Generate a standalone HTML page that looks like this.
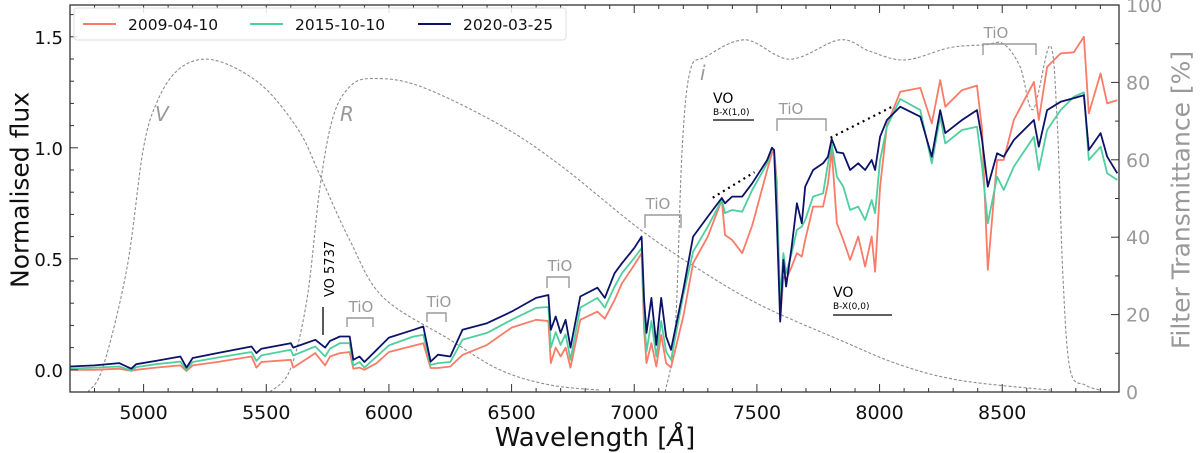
<!DOCTYPE html>
<html><head><meta charset="utf-8"><style>
html,body{margin:0;padding:0;background:#fff;}
svg{display:block;font-family:"DejaVu Sans","Liberation Sans",sans-serif;}
</style></head><body>
<svg id="chart" width="1200" height="453" viewBox="0 0 1200 453">
<g id="filters"></g>
<g id="series"></g>
<g id="axes"></g>
<g id="annot"></g>
</svg>
<script>
const wavelengths = [
4700,4800,4900,4950,4970,5050,5150,5175,5200,5300,
5440,5460,5480,5600,5610,5700,5740,5760,5800,5840,
5855,5880,5900,5950,6000,6100,6140,6170,6200,6250,
6300,6400,6500,6600,6650,6660,6680,6700,6720,6740,
6780,6850,6880,6920,6950,7000,7030,7040,7050,7070,
7090,7110,7130,7150,7200,7240,7300,7357,7370,7399,
7440,7481,7542,7561,7570,7581,7595,7608,7619,7642,
7663,7683,7697,7729,7770,7790,7805,7826,7852,7880,
7913,7941,7968,7982,8002,8030,8084,8166,8213,8247,
8268,8336,8397,8418,8441,8479,8506,8547,8629,8649,
8683,8738,8792,8833,8853,8901,8928,8969];
const flux2020 = [
.015,.02,.03,.005,.025,.04,.06,.01,.053,.075,
.105,.075,.095,.12,.1,.135,.1,.13,.15,.15,
.045,.06,.035,.09,.145,.18,.195,.037,.068,.06,
.18,.21,.262,.324,.337,.18,.24,.166,.225,.1,
.33,.37,.324,.435,.48,.548,.60,.315,.166,.324,
.112,.324,.15,.09,.36,.60,.69,.774,.75,.78,
.78,.84,.945,1.0,.99,.675,.217,.495,.375,.555,
.75,.66,.825,.9,.93,.96,1.04,.98,.975,.9,
.93,.9,.945,.9,1.05,1.125,1.185,1.14,.96,1.17,
1.066,1.125,1.17,1.035,.825,.975,.96,1.035,1.125,1.005,
1.17,1.207,1.224,1.237,.99,1.066,.96,.885];
const flux2015 = [
.005,.01,.015,-.003,.012,.025,.037,0,.035,.055,
.08,.04,.065,.09,.065,.105,.06,.095,.12,.12,
.02,.035,.01,.06,.11,.15,.157,.022,.03,.035,
.135,.166,.225,.279,.283,.1,.17,.112,.16,.045,
.28,.324,.28,.375,.435,.503,.548,.24,.082,.22,
.06,.22,.082,.045,.337,.532,.645,.765,.706,.72,
.712,.81,.93,1.0,.98,.8,.315,.525,.435,.525,
.63,.645,.675,.78,.795,.93,1.02,.87,.825,.72,
.735,.675,.765,.706,.945,1.095,1.22,1.17,.93,1.14,
1.02,1.08,1.095,.915,.66,.87,.81,.915,1.05,.9,
1.08,1.17,1.23,1.25,.945,1.005,.885,.855];
const flux2009 = [
0,0,.005,-.005,0,.01,.02,-.005,.02,.035,
.06,.01,.035,.045,.01,.075,.02,.06,.075,.08,
.005,.01,0,.03,.08,.108,.12,.008,.008,.015,
.067,.112,.19,.225,.22,.03,.1,.06,.1,.01,
.225,.262,.23,.315,.39,.472,.525,.18,.03,.12,
.015,.157,.03,.01,.24,.48,.60,.765,.607,.585,
.525,.65,.9,.975,.99,.85,.225,.42,.405,.465,
.525,.51,.585,.735,.735,.84,.99,.66,.585,.495,
.60,.465,.6,.442,.825,1.1,1.252,1.27,1.11,1.305,
1.185,1.26,1.28,1.08,.45,.945,.945,1.125,1.297,1.125,
1.364,1.425,1.43,1.50,1.155,1.335,1.2,1.215];
const seriesNames = ["2009-04-10","2015-10-10","2020-03-25"];
const filterVwl = [4773,4835,4932,4998,5055,5136,5242,5365,5503,5638,5719,5842,5976,6249,6453,6657,6861];
const filterVt  = [0,6.5,32,62.5,75,83,86,84,78,67,56,39,24.5,13.5,5.7,1.8,0.5];
const filterRwl = [5515,5597,5666,5719,5772,5842,5935,6127,6453,6698,7024,7269,7513,7839,8084,8329,8695];
const filterRt  = [0,5.7,24,53,71,79,81,79,69,58.6,42,31.5,22.5,13.4,7,3,0.5];
const filterIwl = [7126,7167,7195,7228,7289,7452,7635,7839,7962,8104,8288,8430,8504,8573,8626,8695,8724,8748,8777,8838,8899];
const filterIt  = [0,16,62.5,83,86.5,91,86,91,88,85.8,89,89.7,90,84,73,89.5,70,29,5.7,1.8,0.5];
const xTicks = [5000,5500,6000,6500,7000,7500,8000,8500];
const yTicks = [0.0,0.5,1.0,1.5];
const yTickLabels = ["0.0","0.5","1.0","1.5"];
const rTicks = [0,20,40,60,80,100];

const L=70,R=1119,T=5,B=392;
const X0=4700,X1=8976,Y0=-0.1,Y1=1.6432;
const xs=v=>L+(v-X0)/(X1-X0)*(R-L);
const ys=v=>B-(v-Y0)/(Y1-Y0)*(B-T);
const rs=v=>B-v/100*(B-T);
const NS="http://www.w3.org/2000/svg";
function mk(tag,attrs,parent){const e=document.createElementNS(NS,tag);for(const k in attrs)e.setAttribute(k,attrs[k]);parent.appendChild(e);return e;}
const gF=document.getElementById('filters'),gS=document.getElementById('series'),gA=document.getElementById('axes');

function smoothPath(px){
  let d='M'+px[0][0].toFixed(1)+','+px[0][1].toFixed(1);
  for(let i=0;i<px.length-1;i++){
    const p0=px[Math.max(0,i-1)],p1=px[i],p2=px[i+1],p3=px[Math.min(px.length-1,i+2)];
    const c1=[p1[0]+(p2[0]-p0[0])/6,p1[1]+(p2[1]-p0[1])/6];
    const c2=[p2[0]-(p3[0]-p1[0])/6,p2[1]-(p3[1]-p1[1])/6];
    d+='C'+c1[0].toFixed(1)+','+c1[1].toFixed(1)+' '+c2[0].toFixed(1)+','+c2[1].toFixed(1)+' '+p2[0].toFixed(1)+','+p2[1].toFixed(1);
  }
  return d;
}
function filt(wl,t,name){
  const px=wl.map((w,i)=>[xs(w),rs(t[i])]);
  const p=mk('path',{d:smoothPath(px),fill:'none',stroke:'#8c8c8c','stroke-width':1.1,'stroke-dasharray':'3,2'},gF);
  
  
}
filt(filterVwl,filterVt,'filter-v-curve');
filt(filterRwl,filterRt,'filter-r-curve');
filt(filterIwl,filterIt,'filter-i-curve');

const cols=['#f97b68','#4fcf9e','#0c1268'];
[flux2009,flux2015,flux2020].forEach((arr,k)=>{
  const d=arr.map((v,i)=>(i?'L':'M')+xs(wavelengths[i]).toFixed(1)+','+ys(v).toFixed(1)).join('');
  const p=mk('path',{d:d,fill:'none',stroke:cols[k],'stroke-width':1.8,'stroke-linejoin':'round'},gS);
  
  
});
[[7320,0.775,7490,0.89],[7800,1.045,8060,1.19]].forEach(s=>{
  const l=mk('line',{x1:xs(s[0]),y1:ys(s[1]),x2:xs(s[2]),y2:ys(s[3]),stroke:'#000','stroke-width':2.2,'stroke-dasharray':'2,4'},gS);
  
  
});

const fr=mk('rect',{x:L,y:T,width:R-L,height:B-T,fill:'none',stroke:'#333','stroke-width':1.3},gA);


for(let w=4700;w<=8976;w+=100){
  const maj=w%500===0, len=maj?8:4, x=xs(w);
  mk('line',{x1:x,y1:B,x2:x,y2:B-len,stroke:'#333','stroke-width':1},gA);
  mk('line',{x1:x,y1:T,x2:x,y2:T+len,stroke:'#333','stroke-width':1},gA);
}
xTicks.forEach(w=>{
  const t=mk('text',{x:xs(w),y:419,'text-anchor':'middle','font-size':19,fill:'#111'},gA);
  t.textContent=w;
  
  
});
for(let i=-1;i<=16;i++){
  const v=i/10, maj=(i%5===0), len=maj?8:4, y=ys(v);
  mk('line',{x1:L,y1:y,x2:L+len,y2:y,stroke:'#333','stroke-width':1},gA);
}
yTicks.forEach((v,i)=>{
  const t=mk('text',{x:63,y:ys(v)+7,'text-anchor':'end','font-size':18,fill:'#111'},gA);
  t.textContent=yTickLabels[i];
  
  
});
for(let v=0;v<=100;v+=10){
  const len=v%20===0?8:4,y=rs(v);
  mk('line',{x1:R,y1:y,x2:R-len,y2:y,stroke:'#333','stroke-width':1},gA);
}
rTicks.forEach(v=>{
  const t=mk('text',{x:1126,y:rs(v)+7,'font-size':19,fill:'#999'},gA);
  t.textContent=v;
  
  
});
</script>
<svg style="position:absolute;left:0;top:0" width="1200" height="453">
<g font-family="DejaVu Sans, Liberation Sans, sans-serif">
<text x="20" y="190" font-size="25" text-anchor="middle" dominant-baseline="central" transform="rotate(-90 20 190)" fill="#111">Normalised flux</text>
<text x="595" y="446" font-size="26" text-anchor="middle" fill="#111">Wavelength [<tspan font-style="italic">Å</tspan>]</text>
<text x="1181" y="200" font-size="25" text-anchor="middle" dominant-baseline="central" transform="rotate(-90 1181 200)" fill="#999">Filter Transmittance [%]</text>

<g>
<rect x="74" y="8" width="492" height="32" rx="3" fill="#fff" fill-opacity="0.85" stroke="#ddd"/>
<g><line x1="83" y1="24" x2="116" y2="24" stroke="#f97b68" stroke-width="2"/><text x="128" y="30" font-size="15.5" fill="#111">2009-04-10</text></g>
<g><line x1="250" y1="24" x2="283" y2="24" stroke="#4fcf9e" stroke-width="2"/><text x="295" y="30" font-size="15.5" fill="#111">2015-10-10</text></g>
<g><line x1="418" y1="24" x2="451" y2="24" stroke="#0c1268" stroke-width="2"/><text x="463" y="30" font-size="15.5" fill="#111">2020-03-25</text></g>
</g>

<text x="155" y="121" font-size="20" font-style="italic" fill="#999">V</text>
<text x="340" y="121" font-size="20" font-style="italic" fill="#999">R</text>
<text x="700" y="80" font-size="20" font-style="italic" fill="#999">i</text>

<g>
<text x="334" y="297" font-size="13" transform="rotate(-90 334 297)" fill="#000">VO 5737</text>
<line x1="323" y1="307" x2="323" y2="335" stroke="#000" stroke-width="1.3"/>
</g>
<g fill="none" stroke="#999" stroke-width="1.4">
<path d="M347,327V318H373V327"/>
<path d="M427,322V313H446V322"/>
<path d="M547,288V277H569V288"/>
<path d="M645,228V215H681V228"/>
<path d="M777,131V119H826V131"/>
<path d="M983,55V44H1036V55"/>
</g>
<g font-size="15" fill="#999" text-anchor="middle">
<text x="361" y="312">TiO</text>
<text x="439" y="307">TiO</text>
<text x="560" y="271">TiO</text>
<text x="658" y="209">TiO</text>
<text x="791" y="114">TiO</text>
<text x="996" y="38">TiO</text>
</g>
<g>
<text x="713" y="103" font-size="14" fill="#000">VO</text>
<text x="713" y="115" font-size="9" fill="#000">B-X(1,0)</text>
<line x1="713" y1="120" x2="754" y2="120" stroke="#000" stroke-width="1.3"/>
</g>
<g>
<text x="833" y="297" font-size="14" fill="#000">VO</text>
<text x="833" y="309" font-size="9" fill="#000">B-X(0,0)</text>
<line x1="833" y1="315" x2="892" y2="315" stroke="#000" stroke-width="1.3"/>
</g>
</g>
</svg>
</body></html>
